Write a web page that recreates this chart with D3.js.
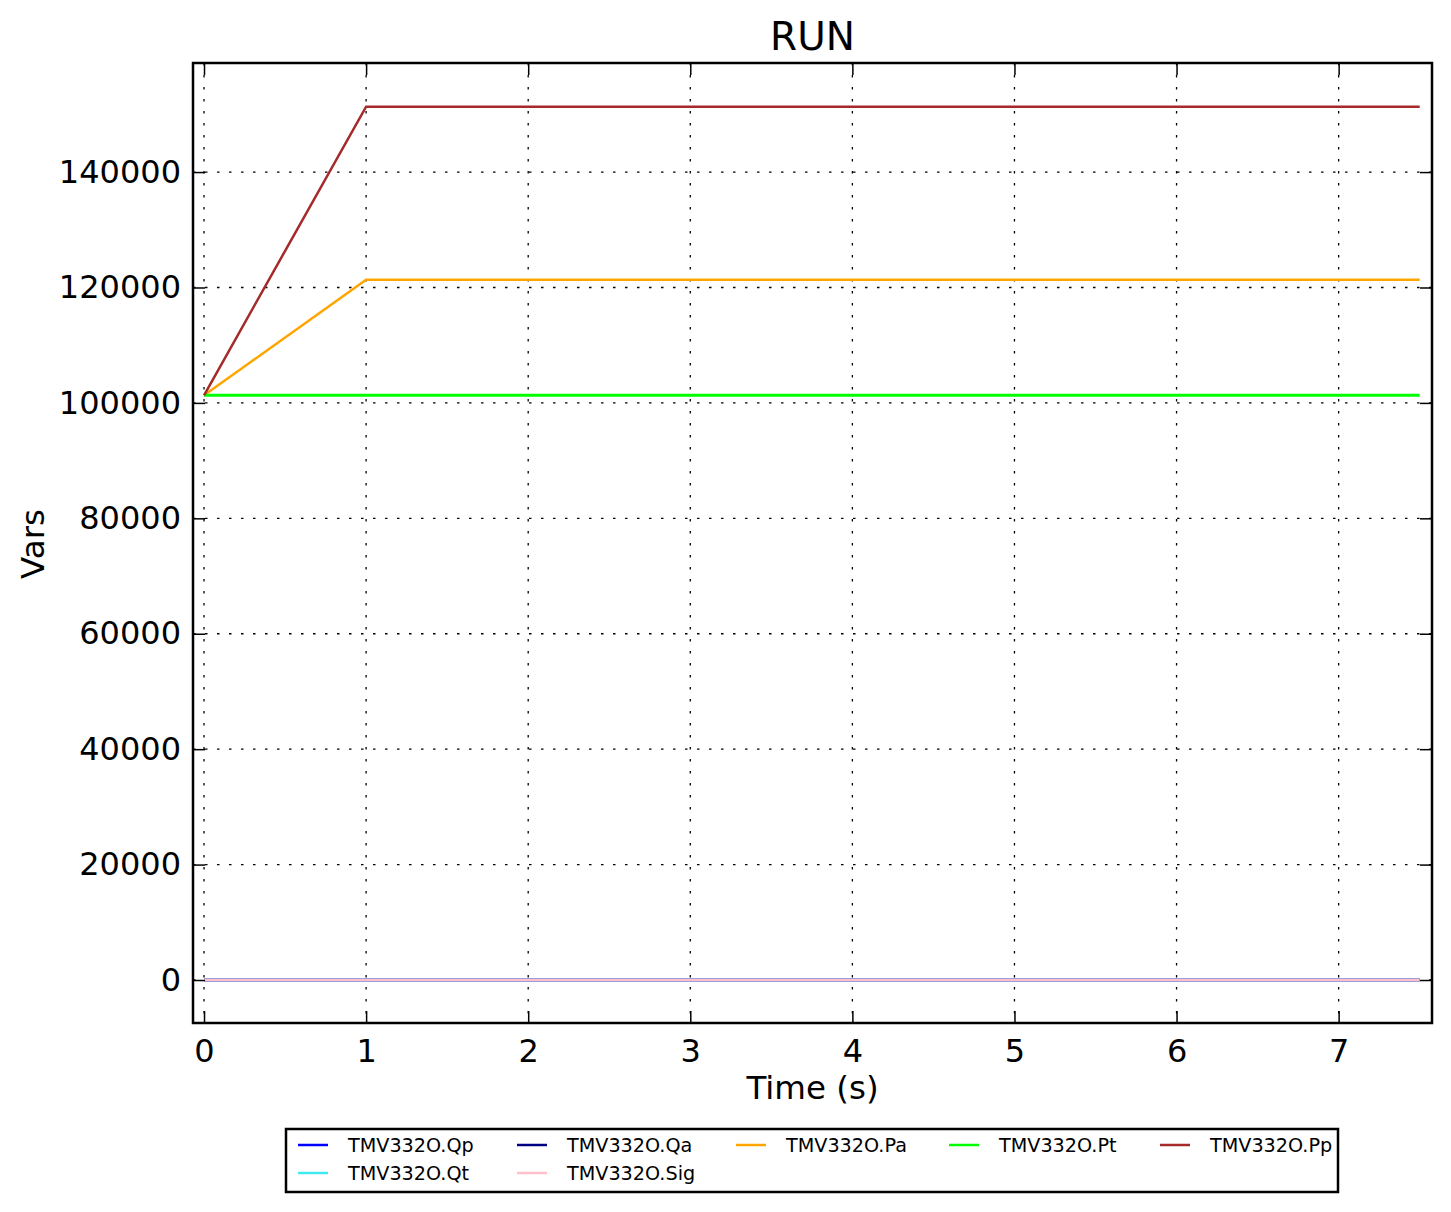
<!DOCTYPE html>
<html>
<head>
<meta charset="utf-8">
<script src="https://cdn.jsdelivr.net/npm/d3@7"></script>
<style>
  body { margin: 0; background: #fff; }
  text { font-family: "DejaVu Sans", sans-serif; fill: #000; }
</style>
</head>
<body>
<svg id="chart" width="1451" height="1212"></svg>
<script>
// time samples (s)
const times = [0, 1, 7.5];
// series names, in legend order
const seriesNames = ['TMV332O.Qp', 'TMV332O.Qt', 'TMV332O.Qa', 'TMV332O.Sig', 'TMV332O.Pa', 'TMV332O.Pt', 'TMV332O.Pp'];
const seriesColors = ['#0000ff', '#40e8f0', '#000080', '#ffc0cb', '#ffa500', '#00ff00', '#a52a2a'];
// values at each time sample
const qpValues = [0, 0, 0];
const qtValues = [0, 0, 0];
const qaValues = [0, 0, 0];
const sigValues = [0, 0, 0];
const paValues = [101325, 121325, 121325];
const ptValues = [101325, 101325, 101325];
const ppValues = [101325, 151325, 151325];
const seriesValues = [qpValues, qtValues, qaValues, sigValues, paValues, ptValues, ppValues];
// tick labels
const xTicks = [0, 1, 2, 3, 4, 5, 6, 7];
const yTicks = [0, 20000, 40000, 60000, 80000, 100000, 120000, 140000];

const svg = d3.select("#chart");
const plotL = 193, plotR = 1432, plotT = 63, plotB = 1023;

const x = d3.scaleLinear().domain([-0.068, 7.576]).range([plotL, plotR]);
const y = d3.scaleLinear().domain([-7450, 158900]).range([plotB, plotT]);

// title
svg.append("text")
    .attr("x", (plotL + plotR) / 2)
    .attr("y", 50)
    .attr("text-anchor", "middle")
    .style("font-size", "39px")
    .text("RUN");

// grid
const grid = svg.append("g");
xTicks.forEach(function (t) {
    grid.append("line")
        .attr("x1", x(t)).attr("x2", x(t))
        .attr("y1", plotT).attr("y2", plotB)
        .style("stroke", "black").style("stroke-width", 1.3)
        .style("stroke-dasharray", "2.5,9.5");
});
yTicks.forEach(function (t) {
    grid.append("line")
        .attr("x1", plotL).attr("x2", plotR)
        .attr("y1", y(t)).attr("y2", y(t))
        .style("stroke", "black").style("stroke-width", 1.3)
        .style("stroke-dasharray", "2.5,9.5");
});

// series lines
const line = d3.line()
    .x((d, i) => x(times[i]))
    .y(d => y(d));

seriesValues.forEach(function (vals, i) {
    svg.append("path")
        .datum(vals)
        .attr("d", line)
        .style("fill", "none")
        .style("stroke", seriesColors[i])
        .style("stroke-width", i == 5 ? 3 : 2.5);
});

// axes with inward ticks
const xAxisB = d3.axisBottom(x).tickValues(xTicks).tickSizeInner(-12).tickSizeOuter(0).tickPadding(16);
const xAxisT = d3.axisTop(x).tickValues(xTicks).tickSizeInner(-12).tickSizeOuter(0).tickFormat("");
const yAxisL = d3.axisLeft(y).tickValues(yTicks).tickSizeInner(-12).tickSizeOuter(0).tickPadding(12).tickFormat(d3.format("d"));
const yAxisR = d3.axisRight(y).tickValues(yTicks).tickSizeInner(-12).tickSizeOuter(0).tickFormat("");

function styleAxis(g) {
    g.select(".domain").remove();
    g.selectAll(".tick line").style("stroke", "black").style("stroke-width", 1.5);
    g.selectAll(".tick text").style("font-size", "32px").style("font-family", "DejaVu Sans");
}
svg.append("g").attr("transform", `translate(0,${plotB})`).call(xAxisB).call(styleAxis);
svg.append("g").attr("transform", `translate(0,${plotT})`).call(xAxisT).call(styleAxis);
svg.append("g").attr("transform", `translate(${plotL},0)`).call(yAxisL).call(styleAxis);
svg.append("g").attr("transform", `translate(${plotR},0)`).call(yAxisR).call(styleAxis);

// frame
svg.append("rect")
    .attr("x", plotL).attr("y", plotT)
    .attr("width", plotR - plotL).attr("height", plotB - plotT)
    .style("fill", "none").style("stroke", "black").style("stroke-width", 2.5);

// axis labels
svg.append("text")
    .attr("x", (plotL + plotR) / 2)
    .attr("y", 1099)
    .attr("text-anchor", "middle")
    .style("font-size", "32.5px")
    .text("Time (s)");
svg.append("text")
    .attr("transform", "translate(44,544) rotate(-90)")
    .attr("text-anchor", "middle")
    .style("font-size", "32.5px")
    .text("Vars");

// legend
const legend = svg.append("g");
legend.append("rect")
    .attr("x", 286).attr("y", 1129)
    .attr("width", 1052).attr("height", 63)
    .style("fill", "white").style("stroke", "black").style("stroke-width", 2.5);
const colX = [298, 517, 736, 949, 1160];
const rowY = [1145, 1173];
const perCol = [2, 2, 1, 1, 1];
let k = 0;
perCol.forEach(function (n, c) {
    for (let r = 0; r < n; r++) {
        legend.append("line")
            .attr("x1", colX[c]).attr("x2", colX[c] + 30)
            .attr("y1", rowY[r]).attr("y2", rowY[r])
            .style("stroke", seriesColors[k]).style("stroke-width", 2.5);
        legend.append("text")
            .attr("x", colX[c] + 50).attr("y", rowY[r] + 7)
            .style("font-size", "19.2px")
            .text(seriesNames[k]);
        k++;
    }
});
</script>
</body>
</html>
